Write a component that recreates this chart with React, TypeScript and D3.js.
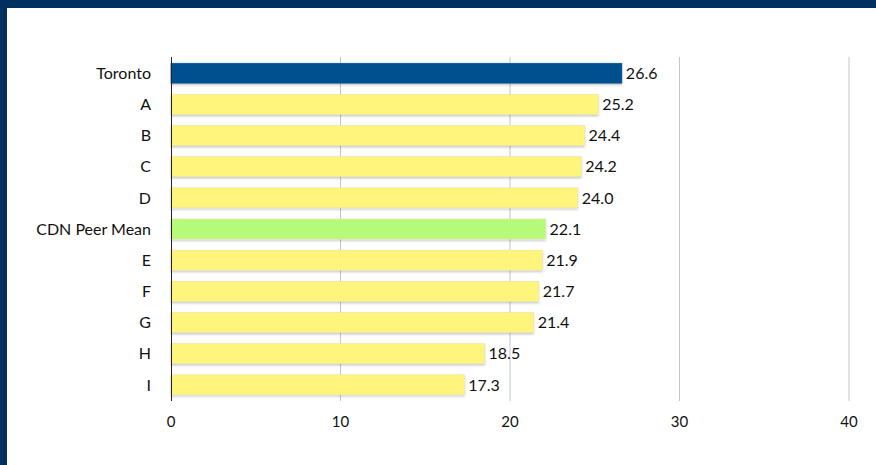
import * as d3 from "d3";

const categories = ["Toronto", "A", "B", "C", "D", "CDN Peer Mean", "E", "F", "G", "H", "I"];
const values = [26.6, 25.2, 24.4, 24.2, 24.0, 22.1, 21.9, 21.7, 21.4, 18.5, 17.3];
const xTicks = [0, 10, 20, 30, 40];

const W = 876;
const H = 465;
const margin = { top: 57, right: 27, bottom: 64, left: 171 };
const font = "'Lato', 'Open Sans', sans-serif";

function barColor(name: string) {
  if (name === "Toronto") return "#00508f";
  if (name === "CDN Peer Mean") return "#b6fa7a";
  return "#fff47c";
}

export default function App() {
  const innerW = W - margin.left - margin.right;
  const innerH = H - margin.top - margin.bottom;

  const x = d3.scaleLinear().domain([0, 40]).range([0, innerW]);
  const y = d3.scaleBand<string>().domain(categories).range([0, innerH]).paddingInner(0.36).paddingOuter(0.2);

  return (
    <div style={{ position: "fixed", left: 0, top: 0, width: W, height: H, background: "#00305e" }}>
      <svg width={W} height={H} style={{ display: "block" }}>
        <defs>
          <filter id="sh" x="-5%" y="-30%" width="110%" height="170%">
            <feDropShadow dx="0" dy="1.5" stdDeviation="1.2" floodColor="#000" floodOpacity="0.22" />
          </filter>
        </defs>
        <rect x={7} y={8} width={W - 7} height={H - 8} fill="#fff" />
        <g transform={`translate(${margin.left},${margin.top})`}>
          {xTicks.slice(1).map((t) => (
            <line key={t} x1={x(t)} x2={x(t)} y1={0} y2={innerH} stroke="#c4c4c4" strokeWidth={1} />
          ))}
          {categories.map((c, i) => (
            <g key={c}>
              <rect
                x={0}
                y={y(c)}
                width={x(values[i])}
                height={y.bandwidth()}
                fill={barColor(c)}
                stroke={c === "Toronto" ? "#00508f" : "#e8e4a0"}
                strokeWidth={0.6}
                filter="url(#sh)"
              />
              <text
                x={x(values[i]) + 4}
                y={(y(c) ?? 0) + y.bandwidth() / 2}
                dy="0.36em"
                fontFamily={font}
                fontSize={16}
                fill="#111"
              >
                {values[i].toFixed(1)}
              </text>
              <text
                x={-20}
                y={(y(c) ?? 0) + y.bandwidth() / 2}
                dy="0.36em"
                textAnchor="end"
                fontFamily={font}
                fontSize={16}
                fill="#111"
              >
                {c}
              </text>
            </g>
          ))}
          <line x1={0.5} x2={0.5} y1={0} y2={innerH} stroke="#222" strokeWidth={1} />
          {xTicks.map((t) => (
            <text key={t} x={x(t)} y={innerH + 21} dy="0.36em" textAnchor="middle" fontFamily={font} fontSize={15} fill="#111">
              {t}
            </text>
          ))}
        </g>
      </svg>
    </div>
  );
}
